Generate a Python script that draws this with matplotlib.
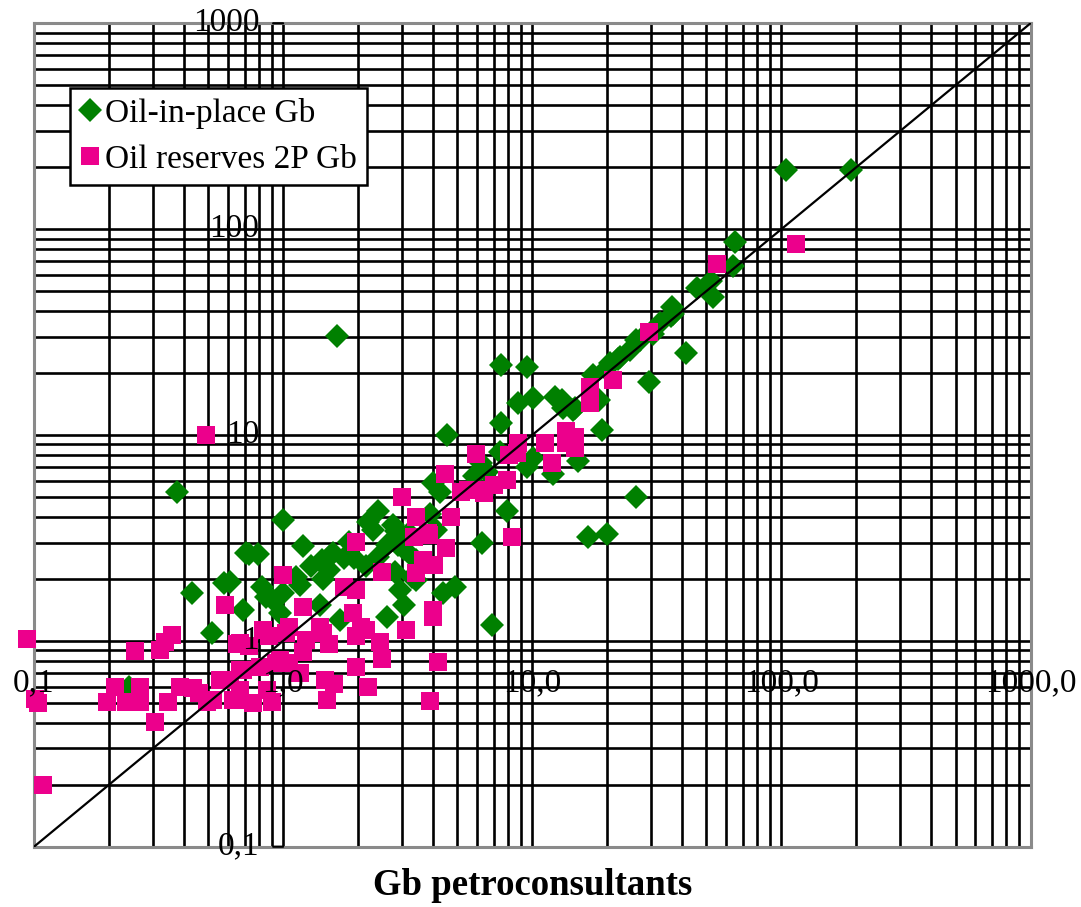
import matplotlib.pyplot as plt
from matplotlib.ticker import LogLocator, NullFormatter

plt.rcParams['font.family'] = ['Liberation Serif', 'DejaVu Serif']

# Oil-in-place, Gb (x = petroconsultants, y = other source)
oip_x = [104, 190, 65, 64, 46, 52, 53, 36.5, 36, 41.5, 29.5, 19, 18.6, 14.9, 13.2,
         20.5, 22.5, 24.6, 26, 30.5, 32.5, 36.7, 17.6, 19.8, 22, 27,
         7.5, 9.5, 8.8, 10.1, 12.3, 13.3, 14.6, 7.5, 4.55, 26, 16.8, 19.9, 6.3, 7.9,
         4.0, 4.25, 10.1, 9.5, 15.3, 12.1, 6.6, 5.85, 6.2, 7.4, 4.4, 4.9, 2.95, 2.95,
         3.05, 3.3, 3.9, 4.1, 3.4,
         1.0, 1.2, 0.73, 0.79, 0.61, 0.69, 0.82, 0.85, 0.91, 1.0, 0.97, 1.13, 1.29,
         1.17, 1.43, 1.53, 1.59, 1.75, 1.92, 1.83, 1.45, 1.53, 1.4, 1.69, 2.2, 2.4,
         2.3, 2.75, 2.85, 2.6, 2.9, 3.2, 2.15, 2.4, 2.8, 3.05, 2.6, 3.4,
         0.374, 0.71, 0.58, 0.43, 0.52, 0.24, 1.64, 6.9]
oip_y = [193, 193, 87, 66, 52, 56, 47, 42, 38, 25, 18, 10.6, 14.8, 13.5, 14.8,
         22.3, 24, 26, 29, 31, 35, 38.5, 19.6, 21, 23.5, 29,
         22, 21.3, 14.3, 15.1, 15.3, 13.5, 13.2, 11.4, 10, 5.0, 3.2, 3.3, 3.0, 4.25,
         5.85, 5.3, 7.7, 7.0, 7.5, 6.5, 6.6, 6.3, 7.3, 8.3, 1.7, 1.83, 1.77, 3.2,
         2.8, 2.05, 4.15, 3.45, 2.47,
         3.87, 2.9, 2.63, 2.63, 1.94, 1.41, 1.83, 1.64, 1.58, 1.7, 1.36, 2.05, 2.3,
         1.87, 2.47, 2.56, 2.66, 2.52, 2.52, 3.03, 2.0, 2.2, 1.49, 1.26, 3.8, 4.25,
         3.45, 3.65, 3.4, 2.92, 2.92, 3.33, 2.3, 2.56, 2.17, 1.49, 1.31, 1.97,
         5.3, 2.66, 1.92, 1.7, 1.09, 0.6, 30.2, 1.19]

# Oil reserves 2P, Gb
res_x = [115, 55, 29.5, 21, 17, 17, 13.7, 14.9, 14.9, 13.7, 11.3, 12, 8.8, 8.7, 8.1,
         5.95, 4.45, 7.9, 7.0, 6.4, 6.1, 5.2, 3.0, 4.7, 3.4, 3.8, 3.36, 4.5, 3.65,
         4.05, 3.4, 8.3, 4.0, 5.5, 1.97, 3.85, 2.5, 1.0, 1.75, 1.97, 4.0, 3.1, 1.2,
         1.9, 2.05, 2.15, 2.45, 2.5, 1.97, 1.4, 1.45, 1.53, 1.24, 1.03, 0.83, 1.2,
         0.97, 1.06, 1.17, 0.73, 0.65, 0.67, 0.61, 0.67, 0.66, 0.9, 0.86, 1.47, 1.6,
         1.5, 1.97, 2.2, 4.2, 3.9, 0.0935, 0.585, 0.67, 0.357, 0.335, 0.32, 0.255,
         0.211, 0.266, 0.196, 0.235, 0.266, 0.101, 0.104, 0.306, 0.346, 0.385, 0.436,
         0.46, 0.558, 0.525, 0.63, 0.69, 0.109, 0.494, 0.76, 0.59, 0.81, 0.94, 0.88,
         1.06, 0.49]
res_y = [84.5, 67.5, 31.8, 18.5, 17.2, 14.3, 10.5, 9.8, 8.6, 9.1, 9.1, 7.3, 9.1, 8.15, 8.0,
         8.1, 6.45, 6.05, 5.7, 5.2, 5.4, 5.3, 5.0, 4.0, 4.0, 3.33, 3.2, 2.82, 2.47,
         2.34, 2.13, 3.2, 1.41, 5.4, 3.03, 3.27, 2.17, 2.1, 1.83, 1.76, 1.31, 1.13, 1.46,
         1.36, 1.17, 1.13, 0.99, 0.82, 1.05, 1.17, 1.09, 0.97, 1.01, 1.09, 1.13, 0.885,
         0.81, 0.78, 0.695, 0.94, 0.97, 0.72, 0.645, 0.58, 0.515, 0.505, 0.58, 0.645, 0.62,
         0.515, 0.75, 0.6, 0.79, 0.51, 1.02, 1.49, 0.98, 1.07, 0.99, 0.9, 0.895,
         0.6, 0.6, 0.506, 0.506, 0.506, 0.52, 0.5, 0.405, 0.506, 0.6, 0.588,
         0.556, 0.645, 0.515, 0.515, 0.72, 0.2, 0.506, 0.497, 0.645, 0.75, 0.78, 1.05,
         1.17, 10]

# y = x reference line
diag = [0.1, 1000]

tick_vals = [0.1, 1, 10, 100, 1000]
x_labels = ['0,1', '1,0', '10,0', '100,0', '1000,0']
y_labels = ['0,1', '1', '10', '100', '1000']

fig = plt.figure(figsize=(10.81, 9.07), dpi=100)
ax = fig.add_axes([34 / 1081, 1 - 846.7 / 907, 996.5 / 1081, 823.4 / 907])
ax.set_xscale('log')
ax.set_yscale('log')
ax.set_xlim(0.1, 1000)
ax.set_ylim(0.1, 1000)

for a in (ax.xaxis, ax.yaxis):
    a.set_major_locator(LogLocator(base=10))
    a.set_minor_locator(LogLocator(base=10, subs=range(2, 10)))
    a.set_major_formatter(NullFormatter())
    a.set_minor_formatter(NullFormatter())
ax.tick_params(which='both', length=0)
ax.set_axisbelow(True)
ax.grid(True, which='both', color='black', lw=1.9)

for s in ax.spines.values():
    s.set_color('#8a8a8a')
    s.set_linewidth(2.2)

ax.plot(oip_x, oip_y, 'D', color='#008000', ms=12, mew=0, ls='none',
        label='Oil-in-place Gb', zorder=3, clip_on=False)
ax.plot(res_x, res_y, 's', color='#ec008c', ms=12.5, mew=0, ls='none',
        label='Oil reserves 2P Gb', zorder=4, clip_on=False)
ax.plot(diag, diag, color='black', lw=1.6, zorder=5)

# small tick marks where the y axis (at x = 1) meets the frame
for v in (0.1, 1000):
    ax.annotate('', xy=(1, v), xytext=(-10, 0), textcoords='offset pixels',
                arrowprops=dict(arrowstyle='-', color='black', lw=1.6,
                                shrinkA=0, shrinkB=0),
                annotation_clip=False)

# axis labels sit on the lines through 1 (axes cross at 1,1)
for v, lab in zip(tick_vals, x_labels):
    ax.annotate(lab, xy=(v, 1), xytext=(0, -50), textcoords='offset pixels',
                ha='center', va='baseline', fontsize=24, zorder=6,
                annotation_clip=False)
for v, lab in zip(tick_vals, y_labels):
    ax.annotate(lab, xy=(1, v), xytext=(-24, -8), textcoords='offset pixels',
                ha='right', va='baseline', fontsize=24, zorder=6,
                annotation_clip=False)

leg = ax.legend(loc='upper left', bbox_to_anchor=(70 / 1081, 1 - 88 / 907),
                bbox_transform=fig.transFigure, borderaxespad=0,
                fontsize=24, frameon=True, fancybox=False, framealpha=1,
                edgecolor='black', handlelength=0.6, handletextpad=0.15,
                borderpad=0.3, labelspacing=0.45)
leg.get_frame().set_linewidth(1.8)
leg.set_zorder(7)

fig.text((34 + 1030.5) / 2 / 1081, 1 - 895 / 907, 'Gb petroconsultants',
         ha='center', va='baseline', fontsize=26.5, fontweight='bold')

fig.savefig('out.png', dpi=100)
